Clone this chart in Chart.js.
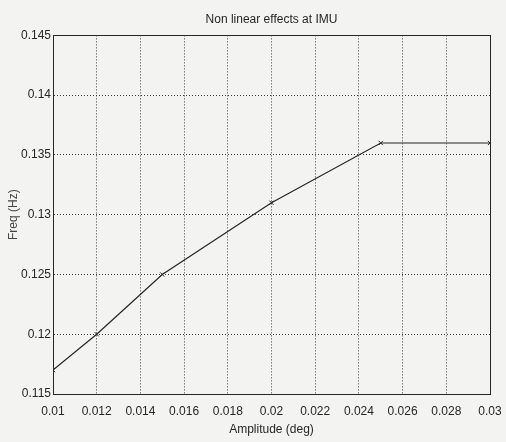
<!DOCTYPE html>
<html>
<head>
<meta charset="utf-8">
<script src="https://cdn.jsdelivr.net/npm/chart.js@4/dist/chart.umd.min.js"></script>
<style>
  html, body { margin: 0; padding: 0; background: #f3f3f1; }
  #wrap { width: 506px; height: 442px; }
</style>
</head>
<body>
<div id="wrap"><canvas id="c" width="506" height="442"></canvas></div>
<script>
// Measured response: amplitude (deg) vs natural frequency (Hz)
const amplitude = [0.01, 0.012, 0.015, 0.02, 0.025, 0.03];
const frequency = [0.117, 0.120, 0.125, 0.131, 0.136, 0.136];

const xTicks = [0.01, 0.012, 0.014, 0.016, 0.018, 0.02, 0.022, 0.024, 0.026, 0.028, 0.03];
const yTicks = [0.115, 0.12, 0.125, 0.13, 0.135, 0.14, 0.145];

const FONT = "'Liberation Sans', Arial, sans-serif";
const INK = '#262626';

// trim trailing zeros like 0.010 -> 0.01
const fmt = v => String(+(+v).toFixed(4));

// closes the plot box (top and right edges)
const boxPlugin = {
  id: 'box',
  afterDraw(chart) {
    const { ctx, chartArea: a } = chart;
    ctx.save();
    ctx.strokeStyle = INK;
    ctx.lineWidth = 1;
    ctx.strokeRect(Math.round(a.left) + 0.5, Math.round(a.top) + 0.5,
                   Math.round(a.right - a.left), Math.round(a.bottom - a.top));
    ctx.restore();
  }
};

new Chart(document.getElementById('c'), {
  type: 'scatter',
  data: {
    datasets: [{
      data: amplitude.map((x, i) => ({ x, y: frequency[i] })),
      showLine: true,
      borderColor: INK,
      borderWidth: 1.2,
      pointStyle: 'crossRot',
      pointRadius: 3,
      pointBorderColor: INK,
      pointBorderWidth: 1,
      tension: 0
    }]
  },
  options: {
    responsive: false,
    animation: false,
    layout: { padding: { left: 0, right: 16, top: 0, bottom: 0 } },
    plugins: {
      legend: { display: false },
      tooltip: { enabled: false },
      title: {
        display: true,
        fullSize: false,
        text: 'Non linear effects at IMU',
        color: INK,
        font: { family: FONT, size: 12, weight: 'normal' },
        padding: { top: 12, bottom: 9 }
      }
    },
    scales: {
      x: {
        type: 'linear',
        min: 0.01, max: 0.03,
        afterBuildTicks: s => { s.ticks = xTicks.map(v => ({ value: v })); },
        afterFit: s => { s.height = 48; s.paddingLeft = 0; s.paddingRight = 0; },
        ticks: {
          color: INK,
          font: { family: FONT, size: 12 },
          padding: 10,
          maxRotation: 0,
          autoSkip: false,
          callback: v => fmt(v)
        },
        grid: { color: '#3c3c3c', lineWidth: 1, drawTicks: false },
        border: { color: INK, width: 1, dash: [1, 2] },
        title: {
          display: true,
          text: 'Amplitude (deg)',
          color: INK,
          font: { family: FONT, size: 12 },
          padding: { top: 0, bottom: 5 }
        }
      },
      y: {
        type: 'linear',
        min: 0.115, max: 0.145,
        afterBuildTicks: s => { s.ticks = yTicks.map(v => ({ value: v })); },
        afterFit: s => { s.width = 53; s.paddingTop = 0; s.paddingBottom = 0; },
        ticks: {
          color: INK,
          font: { family: FONT, size: 12 },
          padding: 2,
          autoSkip: false,
          callback: v => fmt(v)
        },
        grid: { color: '#3c3c3c', lineWidth: 1, drawTicks: false },
        border: { color: INK, width: 1, dash: [1, 2] },
        title: {
          display: true,
          text: 'Freq (Hz)',
          color: '#444',
          font: { family: FONT, size: 12 },
          padding: { top: 6, bottom: 0 }
        }
      }
    }
  },
  plugins: [boxPlugin]
});
</script>
</body>
</html>
